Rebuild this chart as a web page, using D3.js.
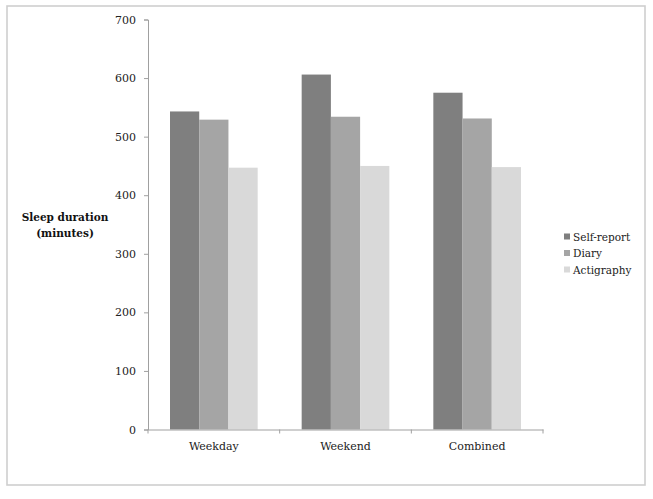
<!DOCTYPE html>
<html><head><meta charset="utf-8">
<script src="https://cdn.jsdelivr.net/npm/d3@7"></script>
<style>body{margin:0;background:#fff;} svg{display:block;}</style>
</head><body>
<script>
const categories = ["Weekday", "Weekend", "Combined"];
const seriesNames = ["Self-report", "Diary", "Actigraphy"];
const selfReport = [543, 606, 575];
const diary = [529, 534, 531];
const actigraphy = [447, 450, 448];
const yTicks = [0, 100, 200, 300, 400, 500, 600, 700];
const colors = ["#7f7f7f", "#a5a5a5", "#d9d9d9"];

const series = [selfReport, diary, actigraphy];
const W = 653, H = 499;
const svg = d3.select("body").append("svg").attr("width", W).attr("height", H);

// frame
svg.append("rect").attr("x", 7).attr("y", 6).attr("width", 638).attr("height", 479)
  .attr("fill", "none").attr("stroke", "#cfcfcf").attr("stroke-width", 1.6);

const plot = {left: 148, right: 543, top: 19.5, bottom: 429.5};
const x = d3.scaleBand().domain(categories).range([plot.left, plot.right]).paddingInner(0).paddingOuter(0);
const y = d3.scaleLinear().domain([0, 700]).range([plot.bottom, plot.top]);
const inner = 22;
const xs = d3.scaleBand().domain(seriesNames)
  .range([inner, x.bandwidth() - inner]).padding(0);

const font = "'DejaVu Serif', serif";

// bars
seriesNames.forEach((s, si) => {
  svg.append("g").selectAll("rect").data(categories).join("rect")
    .attr("x", c => x(c) + xs(s))
    .attr("y", (c, i) => y(series[si][i]))
    .attr("width", xs.bandwidth())
    .attr("height", (c, i) => y(0) - y(series[si][i]))
    .attr("fill", colors[si]);
});

// y axis
const yAxis = svg.append("g").attr("transform", `translate(${plot.left},0)`)
  .call(d3.axisLeft(y).tickValues(yTicks).tickSize(4).tickPadding(8).tickFormat(d3.format("d")));
yAxis.select(".domain").attr("stroke", "#a0a0a0");
yAxis.selectAll(".tick line").attr("stroke", "#a0a0a0");
yAxis.selectAll("text").attr("font-family", font).attr("font-size", 11).attr("fill", "#222");

// x axis
const xAxis = svg.append("g").attr("transform", `translate(0,${plot.bottom})`)
  .call(d3.axisBottom(x).tickSize(0).tickPadding(13));
xAxis.select(".domain").attr("stroke", "#a0a0a0");
xAxis.selectAll("text").attr("font-family", font).attr("font-size", 11).attr("fill", "#222");
// boundary ticks
const bounds = categories.map(c => x(c)).concat([plot.right]);
svg.append("g").selectAll("line").data(bounds).join("line")
  .attr("x1", d => d).attr("x2", d => d)
  .attr("y1", plot.bottom).attr("y2", plot.bottom + 4)
  .attr("stroke", "#a0a0a0");

// y label
const yl = svg.append("text").attr("font-family", font).attr("font-size", 10.5)
  .attr("font-weight", "bold").attr("fill", "#111").attr("text-anchor", "middle");
yl.append("tspan").attr("x", 65).attr("y", 221).text("Sleep duration");
yl.append("tspan").attr("x", 65).attr("y", 237).text("(minutes)");

// legend
const lg = svg.append("g");
seriesNames.forEach((s, i) => {
  const yy = 237 + i * 16.5;
  lg.append("rect").attr("x", 564).attr("y", yy - 3.5).attr("width", 6).attr("height", 6).attr("fill", colors[i]);
  lg.append("text").attr("x", 573).attr("y", yy).attr("dy", "0.35em")
    .attr("font-family", font).attr("font-size", 10.5).attr("fill", "#222").text(s);
});
</script>
</body></html>
